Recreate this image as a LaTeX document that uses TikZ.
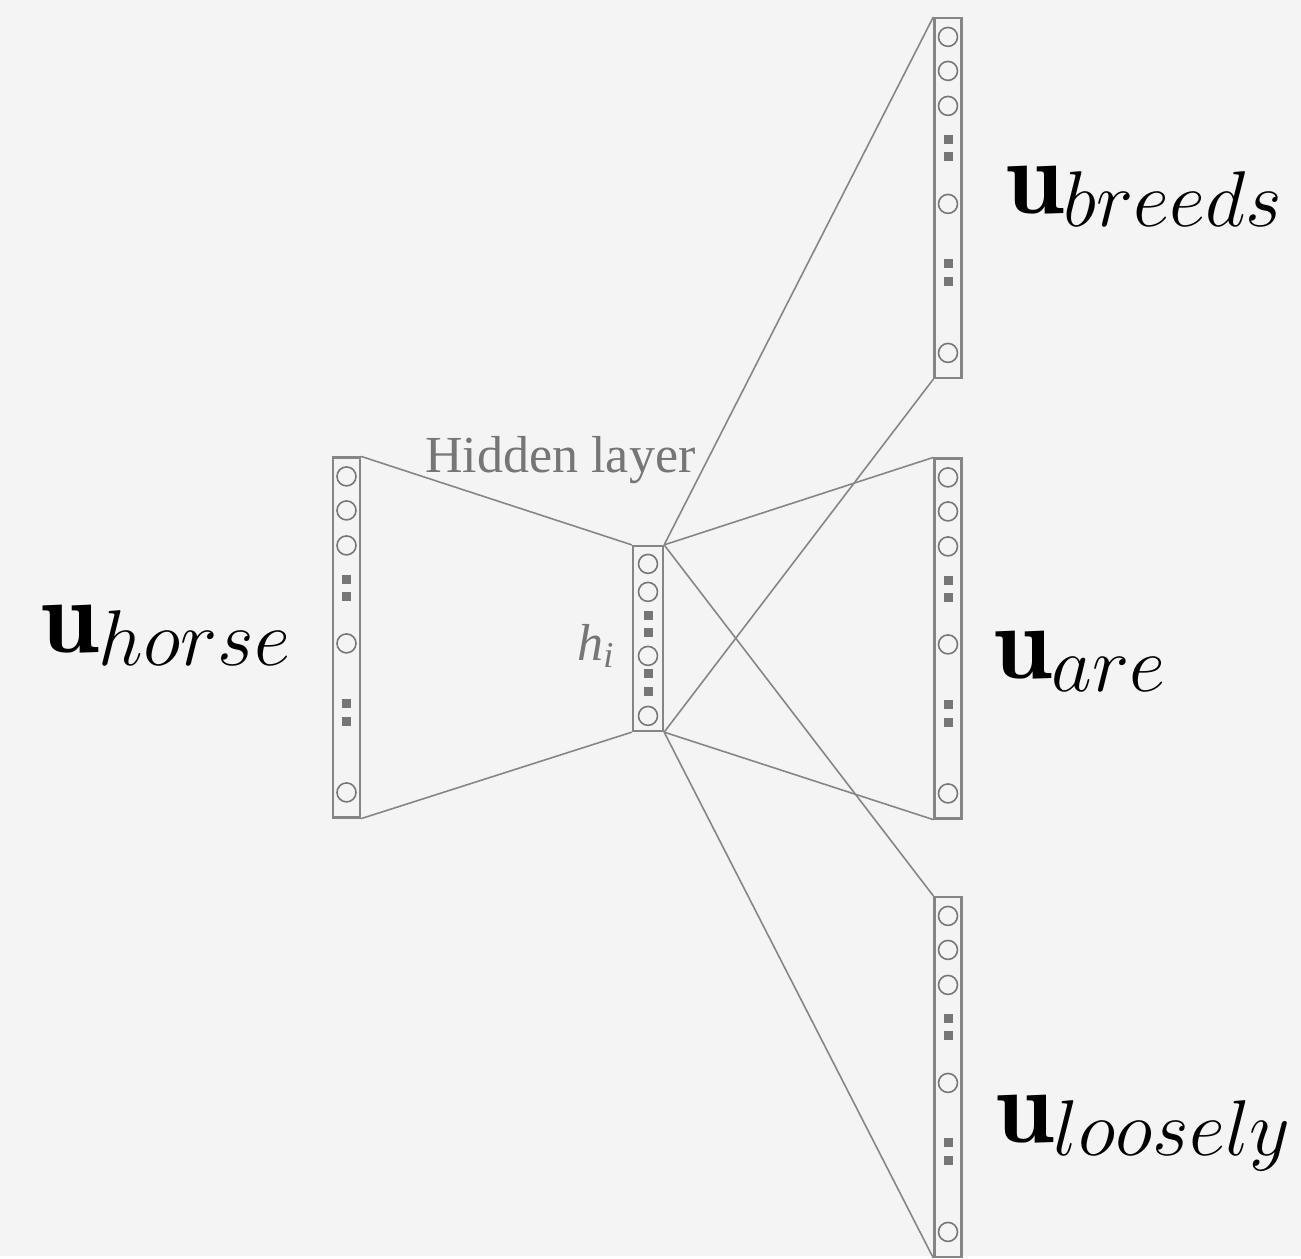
\RequirePackage{fix-cm}
\documentclass[tikz,border=0pt]{standalone}
\usepackage{fontspec}
\usepackage{tikz}
\usetikzlibrary{positioning, calc}

\newfontfamily\labelfont{Liberation Serif}
\definecolor{bg}{HTML}{F4F4F4}
\definecolor{frame}{HTML}{858585}
\definecolor{ink}{HTML}{767676}

% bold vector with a word as its index
\newcommand{\wordvec}[2]{$\mathbf{#1}$\raisebox{-0.26cm}{\fontsize{45}{48}\selectfont$#2$}}

\begin{document}
\begin{tikzpicture}[x=0.02cm, y=-0.02cm]
    \tikzstyle{col}=[rectangle, draw=frame, line width=1.3pt, minimum width=0.54cm, minimum height=7.2cm, inner sep=0pt]
    \tikzstyle{unit}=[draw=ink, line width=0.9pt]
    \tikzstyle{wire}=[draw=frame, line width=0.9pt]
    \tikzstyle{vec}=[font=\fontsize{60}{66}\selectfont, inner sep=0pt, anchor=base west]
    \tikzstyle{note}=[font=\labelfont\fontsize{29.6}{32}\selectfont, text=ink, inner sep=0pt, anchor=base west]

    \fill[bg] (0,0) rectangle (1301,1256);

    % input, hidden and output columns
    \node[col] (horse) at (346.5,637.5) {};
    \node[col, minimum width=0.6cm, minimum height=3.7cm] (hidden) at (648,638.5) {};
    \node[col] (breeds) at (948,198) {};
    \node[col] (are) at (948,638.5) {};
    \node[col] (loosely) at (948,1077) {};

    \foreach \c in {horse,breeds,are,loosely} {
        \foreach \dy in {20,54,89,187,336}
            \draw[unit] ($(\c.north)+(0,\dy)$) circle[radius=0.19cm];
        \foreach \dy in {123,140,247,265}
            \fill[ink] ($(\c.north)+(0,\dy)$) +(-4.5,-4.5) rectangle +(4.5,4.5);
    }
    \foreach \dy in {19,47,111,171}
        \draw[unit] ($(hidden.north)+(0,\dy)$) circle[radius=0.19cm];
    \foreach \dy in {71,88,129,147}
        \fill[ink] ($(hidden.north)+(0,\dy)$) +(-4.5,-4.5) rectangle +(4.5,4.5);

    % connections
    \draw[wire] (horse.north east) -- (hidden.north west);
    \draw[wire] (horse.south east) -- (hidden.south west);
    \foreach \o in {breeds,are,loosely} {
        \draw[wire] (hidden.north east) -- (\o.north west);
        \draw[wire] (hidden.south east) -- (\o.south west);
    }

    % labels
    \node[note] (hl) at (425,472) {Hidden layer};
    \node[note] (hi) at (577,660) {\itshape h\textsubscript{i}};
    \node[vec] (lhorse) at (40,652) {\wordvec{u}{horse}};
    \node[vec] (lbreeds) at (1005,213) {\wordvec{u}{breeds}};
    \node[vec] (lare) at (993,678) {\wordvec{u}{are}};
    \node[vec] (lloosely) at (995,1142) {\wordvec{u}{loosely}};
\end{tikzpicture}
\end{document}
